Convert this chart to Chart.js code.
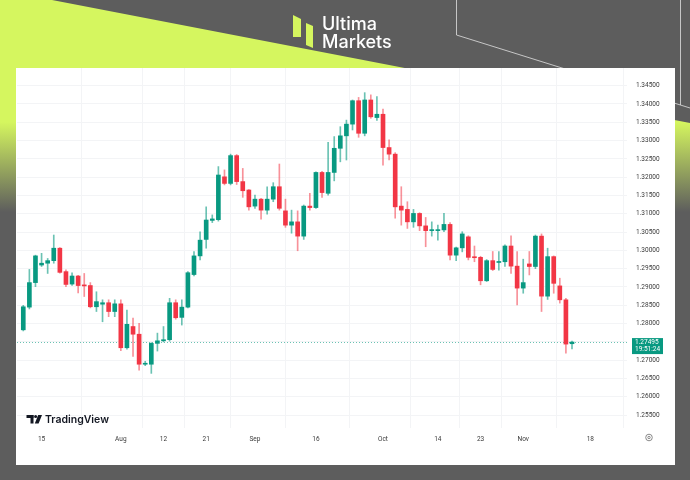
<!DOCTYPE html>
<html lang="en">
<head>
<meta charset="UTF-8">
<title>GBPUSD Daily</title>
<style>
  html, body { margin: 0; padding: 0; background: #5d5d5d; }
  #wrap { width: 690px; height: 480px; }
</style>
</head>
<body>
<div id="wrap"><canvas id="myChart" width="690" height="480"></canvas></div>

<script src="https://cdn.jsdelivr.net/npm/chart.js"></script>
<script>
// daily candles, Jul 10 - Nov 13
const dates = ['Jul 10','Jul 11','Jul 12','Jul 15','Jul 16','Jul 17','Jul 18','Jul 19','Jul 22','Jul 23',
  'Jul 24','Jul 25','Jul 26','Jul 29','Jul 30','Jul 31','Aug 1','Aug 2','Aug 5','Aug 6',
  'Aug 7','Aug 8','Aug 9','Aug 12','Aug 13','Aug 14','Aug 15','Aug 16','Aug 19','Aug 20',
  'Aug 21','Aug 22','Aug 23','Aug 26','Aug 27','Aug 28','Aug 29','Aug 30','Sep 2','Sep 3',
  'Sep 4','Sep 5','Sep 6','Sep 9','Sep 10','Sep 11','Sep 12','Sep 13','Sep 16','Sep 17',
  'Sep 18','Sep 19','Sep 20','Sep 23','Sep 24','Sep 25','Sep 26','Sep 27','Sep 30','Oct 1',
  'Oct 2','Oct 3','Oct 4','Oct 7','Oct 8','Oct 9','Oct 10','Oct 11','Oct 14','Oct 15',
  'Oct 16','Oct 17','Oct 18','Oct 21','Oct 22','Oct 23','Oct 24','Oct 25','Oct 28','Oct 29',
  'Oct 30','Oct 31','Nov 1','Nov 4','Nov 5','Nov 6','Nov 7','Nov 8','Nov 11','Nov 12','Nov 13']
const futureDates = ['Nov 14','Nov 15','Nov 18','Nov 19','Nov 20','Nov 21','Nov 22','Nov 25','Nov 26']

const opens = [1.2783,1.2845,1.2912,1.2960,1.2965,1.2972,1.3006,1.2942,1.2908,1.2930,
  1.2905,1.2904,1.2846,1.2853,1.2857,1.2833,1.2854,1.2734,1.2792,1.2771,
  1.2689,1.2689,1.2746,1.2753,1.2756,1.2857,1.2817,1.2845,1.2934,1.2985,
  1.3030,1.3082,1.3084,1.3201,1.3183,1.3259,1.3188,1.3165,1.3121,1.3140,
  1.3110,1.3140,1.3174,1.3108,1.3069,1.3078,1.3039,1.3121,1.3117,1.3213,
  1.3156,1.3213,1.3279,1.3313,1.3345,1.3409,1.3320,1.3411,1.3363,1.3372,
  1.3281,1.3263,1.3121,1.3112,1.3078,1.3101,1.3067,1.3054,1.3054,1.3056,
  1.3071,1.2987,1.3007,1.3037,1.2981,1.2981,1.2917,1.2972,1.2967,1.2969,
  1.3012,1.2957,1.2897,1.2963,1.2956,1.3039,1.2875,1.2983,1.2903,1.2865,1.2745]
const highs = [1.2850,1.2948,1.2987,1.2992,1.2978,1.3042,1.3008,1.2947,1.2939,1.2932,
  1.2937,1.2912,1.2887,1.2865,1.2865,1.2865,1.2865,1.2837,1.2815,1.2801,
  1.2697,1.2748,1.2774,1.2792,1.2869,1.2865,1.2865,1.2942,1.2997,1.3051,
  1.3119,1.3097,1.3229,1.3220,1.3263,1.3262,1.3224,1.3166,1.3151,1.3142,
  1.3174,1.3185,1.3236,1.3140,1.3110,1.3108,1.3124,1.3156,1.3215,1.3216,
  1.3295,1.3311,1.3338,1.3356,1.3411,1.3418,1.3431,1.3425,1.3420,1.3386,
  1.3302,1.3267,1.3174,1.3133,1.3112,1.3103,1.3090,1.3078,1.3069,1.3101,
  1.3076,1.3009,1.3051,1.3040,1.3012,1.2984,1.2975,1.2997,1.2997,1.3015,
  1.3040,1.2997,1.2976,1.2997,1.3042,1.3045,1.3006,1.2985,1.2924,1.2869,1.2752]
const lows = [1.2780,1.2840,1.2901,1.2956,1.2937,1.2965,1.2938,1.2901,1.2904,1.2884,
  1.2874,1.2843,1.2833,1.2805,1.2819,1.2819,1.2726,1.2730,1.2710,1.2673,
  1.2685,1.2664,1.2725,1.2750,1.2752,1.2812,1.2796,1.2843,1.2930,1.2974,
  1.3006,1.3076,1.3080,1.3179,1.3179,1.3180,1.3145,1.3110,1.3115,1.3085,
  1.3099,1.3133,1.3110,1.3063,1.3047,1.2999,1.3030,1.3110,1.3115,1.3145,
  1.3151,1.3190,1.3242,1.3247,1.3329,1.3309,1.3313,1.3361,1.3355,1.3233,
  1.3247,1.3088,1.3069,1.3060,1.3063,1.3054,1.3010,1.3039,1.3028,1.3051,
  1.2974,1.2972,1.2996,1.2974,1.2969,1.2906,1.2915,1.2945,1.2946,1.2956,
  1.2937,1.2851,1.2883,1.2933,1.2950,1.2833,1.2866,1.2883,1.2856,1.2719,1.2731]
const closes = [1.2846,1.2912,1.2985,1.2965,1.2972,1.3006,1.2940,1.2907,1.2930,1.2904,
  1.2903,1.2846,1.2860,1.2857,1.2833,1.2854,1.2734,1.2798,1.2771,1.2689,
  1.2691,1.2746,1.2753,1.2756,1.2857,1.2816,1.2845,1.2939,1.2985,1.3028,
  1.3083,1.3086,1.3206,1.3183,1.3259,1.3188,1.3163,1.3119,1.3140,1.3110,
  1.3140,1.3174,1.3115,1.3069,1.3078,1.3039,1.3121,1.3117,1.3213,1.3158,
  1.3213,1.3279,1.3313,1.3345,1.3409,1.3320,1.3411,1.3365,1.3372,1.3281,
  1.3263,1.3119,1.3110,1.3078,1.3101,1.3067,1.3054,1.3056,1.3056,1.3071,
  1.2987,1.3007,1.3045,1.2981,1.2980,1.2917,1.2972,1.2948,1.2969,1.3012,
  1.2957,1.2897,1.2912,1.2956,1.3039,1.2875,1.2983,1.2910,1.2865,1.2744,1.27495]

const priceTicks = [1.255,1.26,1.265,1.27,1.275,1.28,1.285,1.29,1.295,1.30,1.305,1.31,1.315,1.32,1.325,1.33,1.335,1.34,1.345]
const timeTickDates = ['Jul 15','Aug 1','Aug 12','Aug 21','Sep 2','Sep 16','Oct 1','Oct 14','Oct 23','Nov 1','Nov 18']
const timeTickLabels = ['15','Aug','12','21','Sep','16','Oct','14','23','Nov','18']
const countdown = '19:51:24'

const UP = '#089981'
const DOWN = '#f23645'
const allDates = dates.concat(futureDates)
const tickIdx = timeTickDates.map(d => allDates.indexOf(d))
const lastClose = closes[closes.length - 1]

// background, brand frame and white panel
const framePlugin = {
  id: 'frame',
  beforeDraw(chart) {
    const c = chart.ctx
    c.save()
    c.fillStyle = '#5d5d5d'
    c.fillRect(0, 0, 690, 480)

    // lime wedge fading into grey
    const g = c.createLinearGradient(0, 122, 0, 212)
    g.addColorStop(0, '#d5f65f')
    g.addColorStop(1, 'rgba(213,246,95,0)')
    c.fillStyle = g
    c.beginPath()
    c.moveTo(52, 0)
    c.lineTo(690, 123)
    c.lineTo(690, 480)
    c.lineTo(0, 480)
    c.lineTo(0, 0)
    c.closePath()
    c.fill()

    // thin outline shape
    c.strokeStyle = 'rgba(225,225,225,0.8)'
    c.lineWidth = 1
    c.beginPath()
    c.moveTo(456.5, 0)
    c.lineTo(456.5, 35)
    c.lineTo(690, 108)
    c.moveTo(680.5, 0)
    c.lineTo(680.5, 105)
    c.stroke()

    // logo
    c.fillStyle = '#d5f65f'
    c.beginPath()
    c.moveTo(293, 15); c.lineTo(301, 19); c.lineTo(301, 37); c.lineTo(293, 37)
    c.closePath(); c.fill()
    c.beginPath()
    c.moveTo(306, 23); c.lineTo(313, 26); c.lineTo(313, 48); c.lineTo(306, 45)
    c.closePath(); c.fill()
    c.fillStyle = '#ffffff'
    c.font = '500 18px Inter, "Noto Sans", sans-serif'
    c.textBaseline = 'alphabetic'
    c.fillText('Ultima', 322, 30)
    c.fillText('Markets', 322, 48)

    // panel
    c.fillStyle = '#ffffff'
    c.fillRect(16, 68, 659, 397)
    c.restore()
  },
  beforeDatasetsDraw(chart) {
    const c = chart.ctx
    const a = chart.chartArea
    const y = Math.round(chart.scales.y.getPixelForValue(lastClose)) + 0.5
    c.save()
    c.strokeStyle = 'rgba(8,153,129,0.6)'
    c.lineWidth = 1
    c.setLineDash([1, 2])
    c.beginPath()
    c.moveTo(a.left, y)
    c.lineTo(a.right, y)
    c.stroke()
    c.restore()
  },
  afterDraw(chart) {
    const c = chart.ctx
    const a = chart.chartArea
    const y = chart.scales.y.getPixelForValue(lastClose)
    c.save()
    // last price tag
    c.fillStyle = UP
    c.fillRect(632, y - 4, 31, 16)
    c.fillStyle = '#ffffff'
    c.font = '6.5px Roboto, sans-serif'
    c.textBaseline = 'middle'
    c.fillText(lastClose.toFixed(5), 635, y + 0.5)
    c.fillText(countdown, 635, y + 7.5)

    // TradingView mark
    c.fillStyle = '#131722'
    c.fillRect(26.5, 415, 7, 3)
    c.fillRect(30.5, 415, 3, 8.5)
    c.beginPath()
    c.arc(35.6, 416.6, 1.5, 0, Math.PI * 2)
    c.fill()
    c.beginPath()
    c.moveTo(38.2, 415); c.lineTo(42, 415); c.lineTo(38.6, 423.5); c.lineTo(34.8, 423.5)
    c.closePath(); c.fill()
    c.font = '600 10.5px Inter, sans-serif'
    c.textBaseline = 'alphabetic'
    c.fillText('TradingView', 45, 423)

    // settings icon
    c.strokeStyle = '#8a8a8a'
    c.lineWidth = 1
    c.beginPath()
    c.arc(649, 437.5, 3.3, 0, Math.PI * 2)
    c.stroke()
    c.beginPath()
    c.arc(649, 437.5, 1.2, 0, Math.PI * 2)
    c.stroke()
    c.restore()
  }
}

const bodies = dates.map((d, i) => ({ x: i, y: [opens[i], closes[i]] }))
const wicks = dates.map((d, i) => ({ x: i, y: [lows[i], highs[i]] }))
const colorOf = i => closes[i] >= opens[i] ? UP : DOWN

new Chart(document.querySelector('#myChart'), {
  type: 'bar',
  data: {
    datasets: [{
      label: 'body',
      data: bodies,
      backgroundColor: dates.map((d, i) => colorOf(i)),
      barThickness: 4,
      minBarLength: 1,
      grouped: false,
      borderWidth: 0
    }, {
      label: 'wick',
      data: wicks,
      backgroundColor: dates.map((d, i) => colorOf(i) === UP ? 'rgba(8,153,129,0.6)' : 'rgba(242,54,69,0.55)'),
      barThickness: 1,
      grouped: false,
      borderWidth: 0
    }]
  },
  options: {
    responsive: false,
    animation: false,
    events: [],
    layout: { padding: { left: 17, top: 68, right: 15, bottom: 15 } },
    plugins: { legend: { display: false }, tooltip: { enabled: false } },
    scales: {
      x: {
        type: 'linear',
        offset: false,
        min: -1.03,
        max: 99.02,
        afterBuildTicks: s => { s.ticks = tickIdx.map(v => ({ value: v })) },
        afterFit: s => { s.height = 37 },
        grid: { color: '#f3f4f6', drawTicks: false },
        border: { display: false },
        ticks: {
          autoSkip: false,
          maxRotation: 0,
          padding: 7,
          color: '#3a3a3a',
          font: { family: 'Roboto, sans-serif', size: 6.5 },
          callback: v => timeTickLabels[tickIdx.indexOf(v)]
        }
      },
      y: {
        position: 'right',
        min: 1.251475,
        max: 1.349836,
        afterBuildTicks: s => { s.ticks = priceTicks.map(v => ({ value: v })) },
        afterFit: s => { s.width = 48 },
        grid: { color: '#f3f4f6', drawTicks: false },
        border: { display: false },
        ticks: {
          padding: 9,
          color: '#3a3a3a',
          font: { family: 'Roboto, sans-serif', size: 6.5 },
          callback: v => v.toFixed(5)
        }
      }
    }
  },
  plugins: [framePlugin]
})
</script>
</body>
</html>
